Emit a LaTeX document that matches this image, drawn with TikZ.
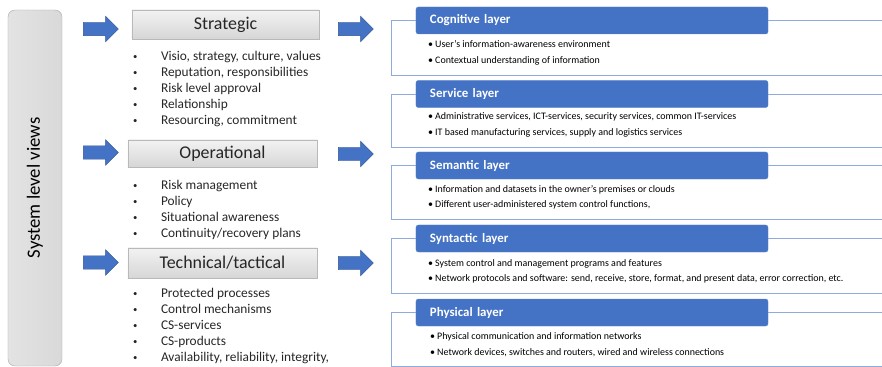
\documentclass[tikz,border=0pt]{standalone}
\usepackage{fontspec}
\setmainfont{Carlito}
\usetikzlibrary{shapes.arrows}
\definecolor{officeblue}{HTML}{4472C4}
\definecolor{arrowedge}{HTML}{2F528F}
\definecolor{panelline}{HTML}{8FAADC}
\definecolor{txt}{HTML}{262626}
\newcommand{\bul}{\strut\makebox[0.84cm][l]{\raisebox{0.15ex}{\scalebox{0.65}{\textbullet}}}}
\newcommand{\lbul}{\strut\textbullet\ }

\begin{document}
\begin{tikzpicture}[x=0.03cm, y=-0.03cm,
  every node/.style={outer sep=0pt, text=txt},
  bluearrow/.style={single arrow, fill=officeblue, draw=arrowedge, line width=0.4pt,
    minimum height=1.05cm, minimum width=0.75cm, single arrow head extend=0.18cm,
    inner xsep=0pt, inner ysep=0.195cm},
  viewbox/.style={rectangle, rounded corners=6pt, draw=gray!65, left color=gray!22, right color=gray!30,
    minimum width=10.68cm, minimum height=1.62cm, font=\fontsize{16}{19}\selectfont, text=black},
  levelbox/.style={rectangle, draw=gray!55, top color=gray!10, bottom color=gray!32,
    font=\fontsize{15.3}{18}\selectfont},
  layerhead/.style={rectangle, rounded corners=2pt, fill=officeblue, draw=officeblue!85!white,
    text=white, font=\bfseries\fontsize{11}{13}\selectfont, minimum height=0.81cm,
    text width=9.72cm, inner xsep=0.42cm, align=left},
  panel/.style={draw=panelline, line width=0.8pt},
  item/.style={anchor=west, inner sep=0pt, font=\fontsize{11.4}{13}\selectfont},
  layitem/.style={anchor=west, inner sep=0pt, font=\fontsize{8.5}{10}\selectfont, text=black}]

\useasboundingbox (0,0) rectangle (882,367);

\node[viewbox, rotate=90] (views) at (35,188) {System level views};

\node[bluearrow] (a1) at (97.5,29) {};
\node[bluearrow] (a2) at (97.5,152.5) {};
\node[bluearrow] (a3) at (97.5,262.5) {};
\node[bluearrow] (b1) at (352.5,29) {};
\node[bluearrow] (b2) at (352.5,154) {};
\node[bluearrow] (b3) at (352.5,263) {};

\node[levelbox, minimum width=5.61cm, minimum height=0.87cm] (strat) at (225.5,24.5) {Strategic};
\node[levelbox, minimum width=5.67cm, minimum height=0.81cm] (oper) at (222.5,153.5) {Operational};
\node[levelbox, minimum width=5.67cm, minimum height=0.9cm] (tech) at (222.5,263) {Technical/tactical};

\node[item] (s1) at (133,57) {\bul Visio, strategy, culture, values};
\node[item] (s2) at (133,73) {\bul Reputation, responsibilities};
\node[item] (s3) at (133,89) {\bul Risk level approval};
\node[item] (s4) at (133,105) {\bul Relationship};
\node[item] (s5) at (133,121) {\bul Resourcing, commitment};

\node[item] (o1) at (133,186) {\bul Risk management};
\node[item] (o2) at (133,202) {\bul Policy};
\node[item] (o3) at (133,218) {\bul Situational awareness};
\node[item] (o4) at (133,234) {\bul Continuity/recovery plans};

\node[item] (t1) at (133,294) {\bul Protected processes};
\node[item] (t2) at (133,310) {\bul Control mechanisms};
\node[item] (t3) at (133,326) {\bul CS-services};
\node[item] (t4) at (133,342) {\bul CS-products};
\node[item] (t5) at (133,358) {\bul Availability, reliability, integrity,};

\node[layerhead] (cog) at (592,20.5) {Cognitive layer};
\node[layerhead] (srv) at (592,94) {Service layer};
\node[layerhead] (sem) at (592,165.5) {Semantic layer};
\node[layerhead] (syn) at (592,238.5) {Syntactic layer};
\node[layerhead] (phy) at (592,312.5) {Physical layer};

\draw[panel] (cog.west) -| (391,75) -- (882,75);
\draw[panel] (cog.east) -- (882,20.5);
\draw[panel] (srv.west) -| (391,147) -- (882,147);
\draw[panel] (srv.east) -- (882,94);
\draw[panel] (sem.west) -| (391,219) -- (882,219);
\draw[panel] (sem.east) -- (882,165.5);
\draw[panel] (syn.west) -| (391,293) -- (882,293);
\draw[panel] (syn.east) -- (882,238.5);
\draw[panel] (phy.west) -| (391,366) -- (882,366);
\draw[panel] (phy.east) -- (882,312.5);

\node[layitem] (c1) at (428,45) {\lbul User's information-awareness environment};
\node[layitem] (c2) at (428,61) {\lbul Contextual understanding of information};
\node[layitem] (v1) at (428,117) {\lbul Administrative services, ICT-services, security services, common IT-services};
\node[layitem] (v2) at (428,133) {\lbul IT based manufacturing services, supply and logistics services};
\node[layitem] (m1) at (428,190) {\lbul Information and datasets in the owner's premises or clouds};
\node[layitem] (m2) at (428,205) {\lbul Different user-administered system control functions,};
\node[layitem] (y1) at (428,264) {\lbul System control and management programs and features};
\node[layitem] (y2) at (428,279) {\lbul Network protocols and software: send, receive, store, format, and present data, error correction, etc.};
\node[layitem] (p1) at (430,337) {\lbul Physical communication and information networks};
\node[layitem] (p2) at (430,353) {\lbul Network devices, switches and routers, wired and wireless connections};
\end{tikzpicture}
\end{document}
